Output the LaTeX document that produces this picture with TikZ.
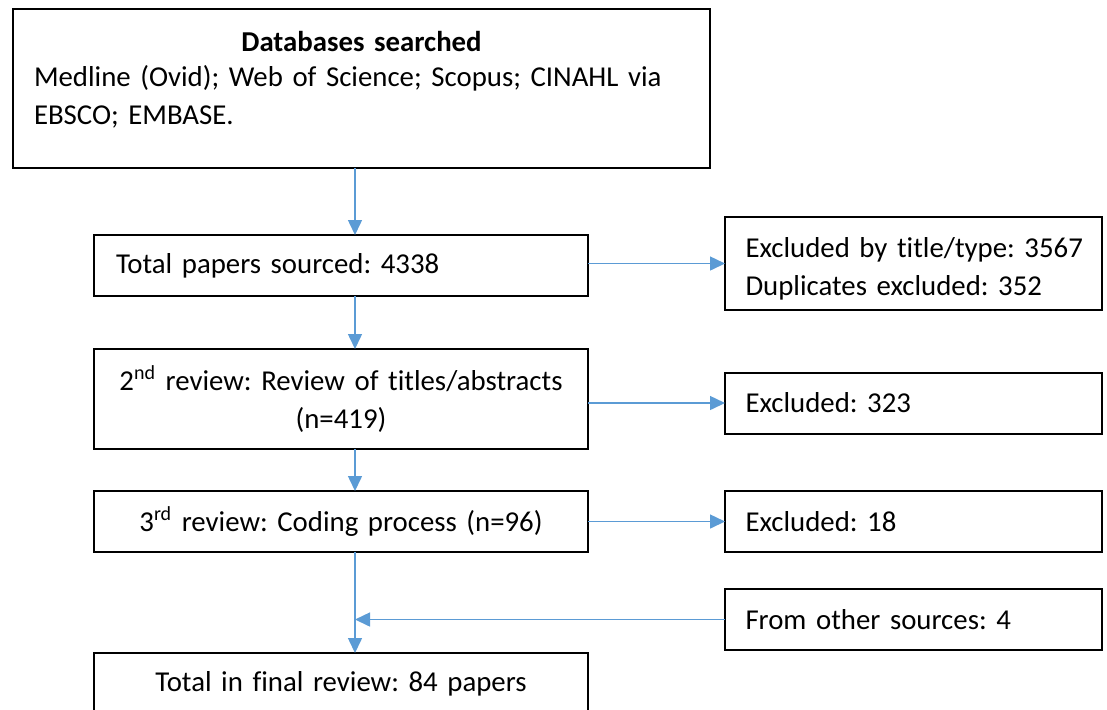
\documentclass[tikz,border=0pt]{standalone}
\usepackage{fontspec}
\setmainfont{Carlito}[Ligatures=NoCommon]
\usepackage{xcolor}
\usetikzlibrary{arrows.meta,positioning}
\definecolor{flowblue}{HTML}{5B9BD5}
\frenchspacing

\begin{document}
\begin{tikzpicture}[
node distance = 26.5pt and 68.5pt,
  box/.style = {draw, line width=1pt, outer sep=0pt, inner xsep=11pt, inner ysep=0pt,
                minimum height=30.5pt, font=\fontsize{14.4}{19}\selectfont},
 lbox/.style = {box, text width=225pt, align=left},
 cbox/.style = {box, text width=225pt, align=center},
 rbox/.style = {box, inner xsep=10.25pt, text width=168pt, align=left},
 flow/.style = {draw=flowblue, line width=0.75pt,
                -{Triangle[length=7.5pt,width=7pt]}}
                        ]
\clip (0,0) rectangle (553.5pt,-354.5pt);
%
\node (db) [box, anchor=north west, inner xsep=10.5pt, text width=327.5pt,
            align=left, minimum height=79.5pt] at (6.5pt,-4.5pt)
    {{\centering\textbf{Databases searched}\par}\vspace{-1.5pt}
     Medline (Ovid); Web of Science; Scopus; CINAHL via\\
     EBSCO; EMBASE.\\[-8pt]\mbox{}};
\node (total) [lbox, below right = 33.5pt and 40.5pt of db.south west]
    {Total papers sourced: 4338};
\node (rev2)  [cbox, minimum height=50pt, below = of total]
    {2\textsuperscript{nd} review: Review of titles/abstracts\\ (n=419)};
\node (rev3)  [cbox, below = 21pt of rev2]
    {3\textsuperscript{rd} review: Coding process (n=96)};
\node (final) [cbox, below = 50.5pt of rev3]
    {Total in final review: 84 papers};
%
\node (excl1) [rbox, minimum height=46.5pt, right = of total, yshift=1pt]
    {\mbox{}\\[-3.5pt]\mbox{Excluded by title/type: 3567}\\ Duplicates excluded: 352};
\node (excl2) [rbox, right = of rev2, yshift=-2pt] {Excluded: 323};
\node (excl3) [rbox, right = of rev3] {Excluded: 18};
\node (other) [rbox, below = 18.5pt of excl3] {From other sources: 4};
%
\coordinate[right = 7pt of total.north] (spine);
\draw[flow] (db.south -| spine)   -- (total.north -| spine);
\draw[flow] (total.south -| spine) -- (rev2.north -| spine);
\draw[flow] (rev2.south -| spine)  -- (rev3.north -| spine);
\draw[flow] (rev3.south -| spine)  -- (final.north -| spine);
\foreach \a/\b in {total/excl1, rev2/excl2, rev3/excl3}
    \draw[flow] (\a.east |- \b.west) -- (\b.west);
\draw[flow] (other.west) -- (other.west -| spine);
\end{tikzpicture}
\end{document}
